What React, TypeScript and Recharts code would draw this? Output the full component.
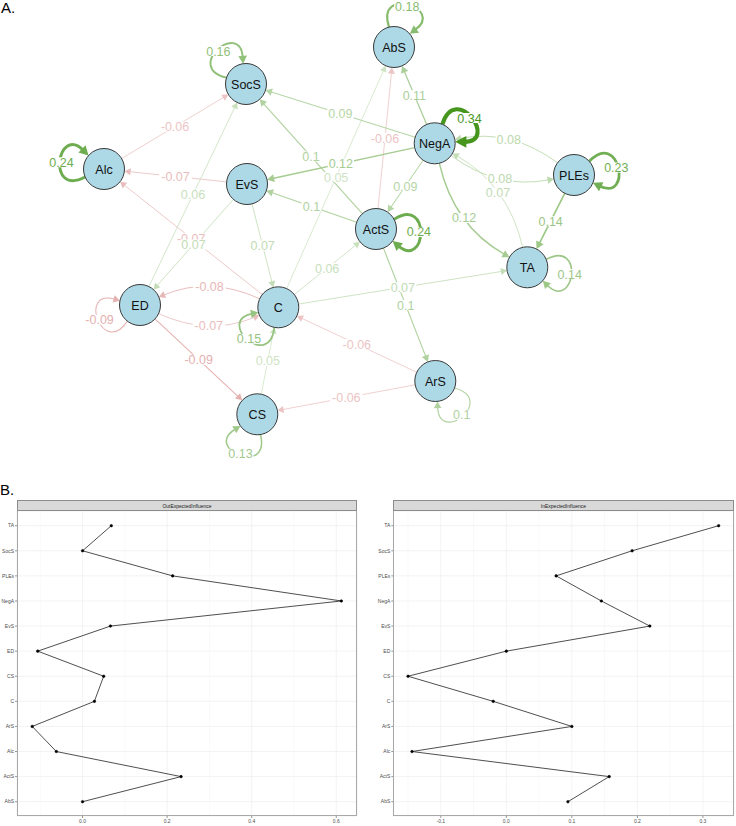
import React from 'react';
import {
  ScatterChart,
  Scatter,
  XAxis,
  YAxis,
  ReferenceLine,
  LineChart,
  Line,
  CartesianGrid,
} from 'recharts';

// ---------- Part A: network ----------
const nodeNames = ['SocS', 'Alc', 'EvS', 'AbS', 'NegA', 'PLEs', 'ActS', 'TA', 'ED', 'C', 'CS', 'ArS'];
const nodeX = [246, 104, 247, 394, 434.7, 574, 376, 527.3, 140, 278.3, 257.3, 435.3];
const nodeY = [84, 169, 184, 47, 143.3, 175, 229, 267.3, 305, 307.3, 414.3, 381];

const edgeFrom = ['Alc', 'EvS', 'C', 'ED', 'EvS', 'EvS', 'ActS', 'NegA', 'NegA', 'ActS', 'C', 'ActS', 'NegA', 'NegA', 'PLEs', 'TA', 'NegA', 'NegA', 'PLEs', 'C', 'C', 'ActS', 'ED', 'C', 'ED', 'CS', 'ArS', 'ArS'];
const edgeTo = ['SocS', 'Alc', 'Alc', 'SocS', 'ED', 'C', 'SocS', 'SocS', 'EvS', 'EvS', 'AbS', 'AbS', 'AbS', 'PLEs', 'NegA', 'NegA', 'TA', 'ActS', 'TA', 'ActS', 'TA', 'ArS', 'C', 'ED', 'CS', 'C', 'C', 'CS'];
const edgeWeight = [-0.06, -0.07, -0.07, 0.06, 0.07, 0.07, 0.1, 0.09, 0.12, 0.1, 0.05, -0.06, 0.11, 0.08, 0.08, 0.07, 0.12, 0.09, 0.14, 0.06, 0.07, 0.1, -0.07, -0.08, -0.09, 0.05, -0.06, -0.06];

const loopNode = ['SocS', 'Alc', 'AbS', 'NegA', 'PLEs', 'ActS', 'TA', 'ED', 'C', 'CS', 'ArS'];
const loopWeight = [0.16, 0.24, 0.18, 0.34, 0.23, 0.24, 0.14, -0.09, 0.15, 0.13, 0.1];
const loopAngle = [-130, -171, -72, -36, -10, 4, 9, 160, 133, 113, 52];

// ---------- Part B: centrality ----------
const influenceNodes = ['TA', 'SocS', 'PLEs', 'NegA', 'EvS', 'ED', 'CS', 'C', 'ArS', 'Alc', 'ActS', 'AbS'];
const outExpectedInfluence = [0.068, 0.0, 0.213, 0.612, 0.066, -0.106, 0.05, 0.028, -0.119, -0.062, 0.233, 0.0];
const inExpectedInfluence = [0.324, 0.192, 0.076, 0.145, 0.219, 0.0, -0.15, -0.02, 0.1, -0.144, 0.157, 0.094];
const outTicks = [0, 0.2, 0.4, 0.6];
const outMinor = [-0.1, 0.1, 0.3, 0.5];
const inTicks = [-0.1, 0, 0.1, 0.2, 0.3];
const inMinor = [-0.15, -0.05, 0.05, 0.15, 0.25];

const FONT = '"Liberation Sans", Arial, sans-serif';
const NODE_R = 20.5;
const MAX_W = 0.34;

function edgeColor(w: number) {
  const a = Math.min(1, Math.pow(Math.abs(w) / MAX_W, 0.7));
  const base = w >= 0 ? [70, 150, 30] : [190, 55, 55];
  const c = base.map((b) => Math.round(255 - (255 - b) * a));
  return `rgb(${c[0]},${c[1]},${c[2]})`;
}
function edgeWidth(w: number) {
  return Math.max(0.8, 12.5 * Math.abs(w) - 0.1);
}
function arrowPts(tx: number, ty: number, ux: number, uy: number, L: number, H: number) {
  const bx = tx - ux * L;
  const by = ty - uy * L;
  return `${tx},${ty} ${bx - uy * H},${by + ux * H} ${bx + uy * H},${by - ux * H}`;
}

type Geo = { path: string; arrow: string; lx: number; ly: number };

function edgeGeometry(x1: number, y1: number, x2: number, y2: number, w: number, curved: boolean): Geo {
  const sw = edgeWidth(w);
  const L = 5 + 1.5 * sw;
  const H = 3 + 0.7 * sw;
  const dx = x2 - x1;
  const dy = y2 - y1;
  const len = Math.hypot(dx, dy) || 1;
  const ux = dx / len;
  const uy = dy / len;
  if (!curved) {
    const sx = x1 + ux * NODE_R;
    const sy = y1 + uy * NODE_R;
    const tx = x2 - ux * NODE_R;
    const ty = y2 - uy * NODE_R;
    const ex = tx - ux * L * 0.8;
    const ey = ty - uy * L * 0.8;
    return {
      path: `M${sx},${sy} L${ex},${ey}`,
      arrow: arrowPts(tx, ty, ux, uy, L, H),
      lx: (x1 + x2) / 2,
      ly: (y1 + y2) / 2,
    };
  }
  const nx = -uy;
  const ny = ux;
  const k = 0.22 * len;
  const qx = (x1 + x2) / 2 + nx * k;
  const qy = (y1 + y2) / 2 + ny * k;
  const ax = qx - x1;
  const ay = qy - y1;
  const al = Math.hypot(ax, ay);
  const sx = x1 + (ax / al) * NODE_R;
  const sy = y1 + (ay / al) * NODE_R;
  const bx = x2 - qx;
  const by = y2 - qy;
  const bl = Math.hypot(bx, by);
  const vx = bx / bl;
  const vy = by / bl;
  const tx = x2 - vx * NODE_R;
  const ty = y2 - vy * NODE_R;
  const ex = tx - vx * L * 0.8;
  const ey = ty - vy * L * 0.8;
  return {
    path: `M${sx},${sy} Q${qx},${qy} ${ex},${ey}`,
    arrow: arrowPts(tx, ty, vx, vy, L, H),
    lx: 0.25 * sx + 0.5 * qx + 0.25 * tx,
    ly: 0.25 * sy + 0.5 * qy + 0.25 * ty,
  };
}

function loopGeometry(cx: number, cy: number, w: number, angleDeg: number): Geo {
  const sw = edgeWidth(w);
  const L = 5 + 1.5 * sw;
  const H = 3 + 0.7 * sw;
  const t = (angleDeg * Math.PI) / 180;
  const s = (32 * Math.PI) / 180;
  const s2 = (35 * Math.PI) / 180;
  const D = 64.7;
  const p0x = cx + NODE_R * Math.cos(t - s);
  const p0y = cy + NODE_R * Math.sin(t - s);
  const p3x = cx + NODE_R * Math.cos(t + s);
  const p3y = cy + NODE_R * Math.sin(t + s);
  const p1x = cx + D * Math.cos(t - s2);
  const p1y = cy + D * Math.sin(t - s2);
  const p2x = cx + D * Math.cos(t + s2);
  const p2y = cy + D * Math.sin(t + s2);
  const dx = p3x - p2x;
  const dy = p3y - p2y;
  const dl = Math.hypot(dx, dy);
  const vx = dx / dl;
  const vy = dy / dl;
  const ex = p3x - vx * L * 0.8;
  const ey = p3y - vy * L * 0.8;
  return {
    path: `M${p0x},${p0y} C${p1x},${p1y} ${p2x},${p2y} ${ex},${ey}`,
    arrow: arrowPts(p3x, p3y, vx, vy, L, H),
    lx: cx + 43 * Math.cos(t),
    ly: cy + 43 * Math.sin(t),
  };
}

function EdgeDraw({ geo, w }: { geo: Geo; w: number }) {
  const col = edgeColor(w);
  return (
    <g>
      <path d={geo.path} fill="none" stroke={col} strokeWidth={edgeWidth(w)} />
      <polygon points={geo.arrow} fill={col} stroke="none" />
    </g>
  );
}

function EdgeLabel({ x, y, w }: { x: number; y: number; w: number }) {
  const text = String(w);
  const tw = text.length * 6.3 + 1;
  return (
    <g>
      <rect x={x - tw / 2} y={y - 5} width={tw} height={10} fill="#ffffff" />
      <text x={x} y={y} dy="0.36em" textAnchor="middle" fontSize={12.5} fontFamily={FONT} fill={edgeColor(w)}>
        {text}
      </text>
    </g>
  );
}

const NodeShape = (props: any) => {
  const { cx, cy, payload } = props;
  return (
    <g>
      <circle cx={cx} cy={cy} r={NODE_R} fill="#add8e6" stroke="#3a3a3a" strokeWidth={1} />
      <text x={cx} y={cy} dy="0.36em" textAnchor="middle" fontSize={12.5} fontFamily={FONT} fill="#111">
        {payload.name}
      </text>
    </g>
  );
};

function idx(n: string) {
  return nodeNames.indexOf(n);
}

function NetworkChart() {
  const nodes = nodeNames.map((n, i) => ({ name: n, x: nodeX[i], y: nodeY[i] }));
  const edges = edgeFrom.map((f, k) => {
    const to = edgeTo[k];
    const curved = edgeFrom.some((ff, m) => ff === to && edgeTo[m] === f);
    return { i: idx(f), j: idx(to), w: edgeWeight[k], curved, key: `${f}-${to}` };
  });
  const loops = loopNode.map((n, k) => ({ i: idx(n), w: loopWeight[k], a: loopAngle[k], key: `loop-${n}` }));
  const ordered = [...edges].sort((a, b) => Math.abs(a.w) - Math.abs(b.w));
  const loopsOrdered = [...loops].sort((a, b) => Math.abs(a.w) - Math.abs(b.w));

  return (
    <ScatterChart width={736} height={480} margin={{ top: 0, right: 0, bottom: 0, left: 0 }}>
      <XAxis type="number" dataKey="x" domain={[0, 736]} hide />
      <YAxis type="number" dataKey="y" domain={[0, 480]} reversed hide />
      {ordered.map((e) => (
        <ReferenceLine
          key={`line-${e.key}`}
          ifOverflow="visible"
          segment={[
            { x: nodeX[e.i], y: nodeY[e.i] },
            { x: nodeX[e.j], y: nodeY[e.j] },
          ]}
          shape={(p: any) => <EdgeDraw geo={edgeGeometry(p.x1, p.y1, p.x2, p.y2, e.w, e.curved)} w={e.w} />}
        />
      ))}
      {loopsOrdered.map((l) => (
        <ReferenceLine
          key={`line-${l.key}`}
          ifOverflow="visible"
          segment={[
            { x: nodeX[l.i], y: nodeY[l.i] },
            { x: nodeX[l.i], y: nodeY[l.i] },
          ]}
          shape={(p: any) => <EdgeDraw geo={loopGeometry(p.x1, p.y1, l.w, l.a)} w={l.w} />}
        />
      ))}
      {ordered.map((e) => (
        <ReferenceLine
          key={`lab-${e.key}`}
          ifOverflow="visible"
          segment={[
            { x: nodeX[e.i], y: nodeY[e.i] },
            { x: nodeX[e.j], y: nodeY[e.j] },
          ]}
          shape={(p: any) => {
            const g = edgeGeometry(p.x1, p.y1, p.x2, p.y2, e.w, e.curved);
            return <EdgeLabel x={g.lx} y={g.ly} w={e.w} />;
          }}
        />
      ))}
      {loopsOrdered.map((l) => (
        <ReferenceLine
          key={`lab-${l.key}`}
          ifOverflow="visible"
          segment={[
            { x: nodeX[l.i], y: nodeY[l.i] },
            { x: nodeX[l.i], y: nodeY[l.i] },
          ]}
          shape={(p: any) => {
            const g = loopGeometry(p.x1, p.y1, l.w, l.a);
            return <EdgeLabel x={g.lx} y={g.ly} w={l.w} />;
          }}
        />
      ))}
      <Scatter data={nodes} shape={NodeShape} isAnimationActive={false} />
    </ScatterChart>
  );
}

function InfluencePanel({
  title,
  values,
  domain,
  ticks,
  minor,
  left,
  axisWidth,
  rightMargin,
}: {
  title: string;
  values: number[];
  domain: [number, number];
  ticks: number[];
  minor: number[];
  left: number;
  axisWidth: number;
  rightMargin: number;
}) {
  const data = influenceNodes.map((n, i) => ({ name: n, value: values[i] }));
  const width = 360;
  const plotLeft = left + axisWidth;
  const plotW = width - axisWidth - rightMargin;
  return (
    <>
      <div
        style={{
          position: 'absolute',
          left: plotLeft,
          top: 500,
          width: plotW,
          height: 11,
          boxSizing: 'border-box',
          background: '#d9d9d9',
          border: '0.7px solid #8c8c8c',
          fontFamily: FONT,
          fontSize: 5,
          lineHeight: '10px',
          textAlign: 'center',
          color: '#1a1a1a',
        }}
      >
        {title}
      </div>
      <div style={{ position: 'absolute', left, top: 511 }}>
        <LineChart
          layout="vertical"
          width={width}
          height={315}
          data={data}
          margin={{ top: 0, right: rightMargin, bottom: 0, left: 0 }}
        >
          <CartesianGrid stroke="#ebebeb" strokeWidth={0.6} />
          {minor.map((v) => (
            <ReferenceLine key={v} x={v} stroke="#f3f3f3" strokeWidth={0.5} ifOverflow="visible" />
          ))}
          <XAxis
            type="number"
            dataKey="value"
            domain={domain}
            ticks={ticks}
            allowDataOverflow
            tickFormatter={(v: number) => v.toFixed(1)}
            tick={{ fontSize: 5, fill: '#4d4d4d', fontFamily: FONT }}
            tickSize={2}
            tickMargin={1}
            tickLine={{ stroke: '#333', strokeWidth: 0.5 }}
            axisLine={false}
            height={10}
          />
          <YAxis
            type="category"
            dataKey="name"
            width={axisWidth}
            interval={0}
            tick={{ fontSize: 5, fill: '#4d4d4d', fontFamily: FONT }}
            tickSize={2}
            tickMargin={1}
            tickLine={{ stroke: '#333', strokeWidth: 0.5 }}
            axisLine={false}
            padding={{ top: 14.7, bottom: 14.3 }}
          />
          <Line
            dataKey="value"
            stroke="#222"
            strokeWidth={0.8}
            dot={{ r: 1.3, fill: '#000', stroke: '#000', strokeWidth: 0.5 }}
            isAnimationActive={false}
          />
        </LineChart>
      </div>
      <div
        style={{
          position: 'absolute',
          left: plotLeft,
          top: 511,
          width: plotW,
          height: 305,
          boxSizing: 'border-box',
          border: '0.7px solid #a8a8a8',
          borderTop: 'none',
          pointerEvents: 'none',
        }}
      />
    </>
  );
}

export default function App() {
  return (
    <div
      style={{
        position: 'absolute',
        left: 0,
        top: 0,
        width: 736,
        height: 826,
        background: '#fff',
        overflow: 'hidden',
      }}
    >
      <div style={{ position: 'absolute', left: 0, top: 0 }}>
        <NetworkChart />
      </div>
      <div style={{ position: 'absolute', left: 1, top: -1, fontFamily: FONT, fontSize: 15, color: '#000' }}>A.</div>
      <div style={{ position: 'absolute', left: 0, top: 481, fontFamily: FONT, fontSize: 15, color: '#000' }}>B.</div>
      <InfluencePanel
        title="OutExpectedInfluence"
        values={outExpectedInfluence}
        domain={[-0.155, 0.649]}
        ticks={outTicks}
        minor={outMinor}
        left={0}
        axisWidth={17}
        rightMargin={3}
      />
      <InfluencePanel
        title="InExpectedInfluence"
        values={inExpectedInfluence}
        domain={[-0.1725, 0.347]}
        ticks={inTicks}
        minor={inMinor}
        left={376}
        axisWidth={17.3}
        rightMargin={2.3}
      />
    </div>
  );
}
